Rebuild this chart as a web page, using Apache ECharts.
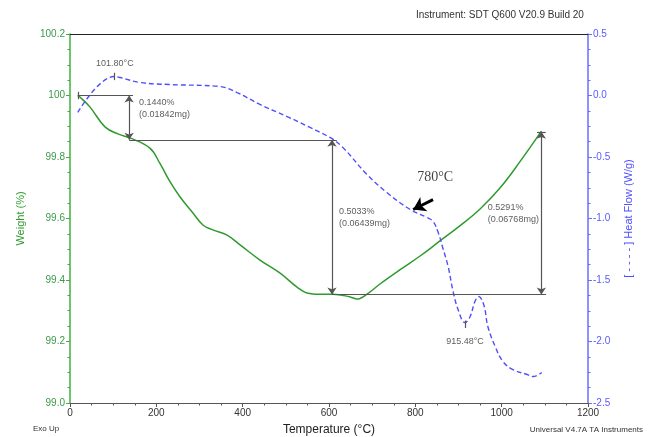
<!DOCTYPE html>
<html><head><meta charset="utf-8">
<script src="https://cdn.jsdelivr.net/npm/echarts@6/dist/echarts.min.js"></script>
<style>html,body{margin:0;padding:0;background:#fff}#c{width:648px;height:437px}</style>
</head><body><div id="c"></div>
<script>
// Weight curve (left axis)
const weightT = [18,23,46,81,111,139,185,208,232,255,283,308,331,364,394,440,486,526,549,579,609,649,665,688,718,764,811,857,903,950,996,1042,1092];
const weightPct = [100.0,99.995,99.963,99.898,99.875,99.862,99.829,99.780,99.719,99.670,99.621,99.579,99.563,99.546,99.514,99.465,99.423,99.377,99.358,99.354,99.354,99.345,99.338,99.354,99.387,99.433,99.478,99.527,99.576,99.631,99.699,99.784,99.884];
// Heat flow curve (right axis)
const heatT = [18,102,116,162,232,347,387,440,503,556,602,630,688,734,788,827,841,853,864,876,887,899,915,927,938,947,959,968,985,1003,1026,1059,1073,1093];
const heatFlow = [-0.138,0.154,0.146,0.106,0.089,0.073,0.024,-0.073,-0.171,-0.260,-0.341,-0.415,-0.642,-0.789,-0.927,-0.992,-1.024,-1.114,-1.244,-1.390,-1.585,-1.740,-1.846,-1.797,-1.675,-1.634,-1.707,-1.878,-2.041,-2.163,-2.228,-2.268,-2.285,-2.252];
// Step measurement annotations (weight axis): [T, topWeight, bottomWeight]
const stepVerticals = [[137,100.0,99.856],[607,99.856,99.353],[1092,99.882,99.353]];
// horizontal guide lines: [weight, T from, T to]
const stepHorizontals = [[100.0,18,146],[99.856,137,618],[99.353,607,1103],[99.882,1082,1102]];
const stepTicks = [[18,100.012,99.988]];
const stepLabels = [[160,99.959,'0.1440%\n(0.01842mg)'],[623,99.602,'0.5033%\n(0.06439mg)'],[968,99.616,'0.5291%\n(0.06768mg)']];
// Heat flow peak markers: [T, top, bottom]
const heatTicks = [[102,0.185,0.125],[915,-1.83,-1.89]];
const heatLabels = [[104,0.26,'101.80°C'],[915,-2.0,'915.48°C']];
const arrow780 = [[841,-0.846],[795,-0.927]];
const text780 = [846,-0.667,'780°C'];
// Axes ticks
const xTicks = {min:0,max:1200,interval:200};
const yLeft = {min:99.0,max:100.2,interval:0.2};
const yRight = {min:-2.5,max:0.5,interval:0.5};

const green = '#2f9a2f', blue = '#4f4fff', gray = '#555';
const wData = weightT.map((t,i)=>[t,weightPct[i]]);
const hData = heatT.map((t,i)=>[t,heatFlow[i]]);

const wMarks = [];
stepVerticals.forEach(v=>wMarks.push([{coord:[v[0],v[1]],symbol:'arrow'},{coord:[v[0],v[2]],symbol:'arrow'}]));
stepHorizontals.forEach(h=>wMarks.push([{coord:[h[1],h[0]],symbol:'none'},{coord:[h[2],h[0]],symbol:'none'}]));
stepTicks.forEach(v=>wMarks.push([{coord:[v[0],v[1]],symbol:'none'},{coord:[v[0],v[2]],symbol:'none'}]));

const hMarks = [];
heatTicks.forEach(v=>hMarks.push([{coord:[v[0],v[1]],symbol:'none'},{coord:[v[0],v[2]],symbol:'none'}]));
hMarks.push([{coord:arrow780[0],symbol:'none',lineStyle:{color:'#000',width:3,type:'solid'}},{coord:arrow780[1],symbol:'arrow',symbolSize:12}]);

const chart = echarts.init(document.getElementById('c'),null,{renderer:'canvas'});
chart.setOption({
  animation:false,
  backgroundColor:'#fff',
  textStyle:{fontFamily:'Liberation Sans, Arial, sans-serif'},
  grid:{left:70,right:60,top:34,bottom:34,containLabel:false,outerBoundsMode:'none'},
  xAxis:[{
    type:'value',min:xTicks.min,max:xTicks.max,interval:xTicks.interval,
    name:'Temperature (°C)',nameLocation:'middle',nameGap:21,
    nameTextStyle:{color:'#222',fontSize:12},
    axisLine:{onZero:false,lineStyle:{color:gray,width:1.2}},
    axisTick:{length:4,lineStyle:{color:gray}},
    minorTick:{show:true,splitNumber:4,length:2.5,lineStyle:{color:gray}},
    axisLabel:{color:'#333',fontSize:10,margin:5,formatter:v=>String(v)},
    splitLine:{show:false}
  },{
    type:'value',position:'top',min:xTicks.min,max:xTicks.max,
    axisLine:{show:true,onZero:false,lineStyle:{color:'#222',width:1}},
    axisTick:{show:false},axisLabel:{show:false},splitLine:{show:false}
  }],
  yAxis:[{
    type:'value',position:'left',min:yLeft.min,max:yLeft.max,interval:yLeft.interval,
    name:'Weight (%)',nameLocation:'middle',nameGap:44,
    nameTextStyle:{color:green,fontSize:11},
    axisLine:{show:true,onZero:false,lineStyle:{color:'#3fb03f',width:1.5}},
    axisTick:{show:true,length:4,lineStyle:{color:'#3fb03f'}},
    minorTick:{show:true,splitNumber:4,length:2.5,lineStyle:{color:'#3fb03f'}},
    axisLabel:{color:'#3a9a4a',fontSize:10,margin:5,formatter:v=>Math.abs(v-100)<1e-6?'100':v.toFixed(1)},
    splitLine:{show:false}
  },{
    type:'value',position:'right',min:yRight.min,max:yRight.max,interval:yRight.interval,
    name:'[ - - - - ] Heat Flow (W/g)',nameLocation:'middle',nameGap:35,
    nameTextStyle:{color:blue,fontSize:11},
    axisLine:{show:true,onZero:false,lineStyle:{color:'#6b6bff',width:1.5}},
    axisTick:{show:true,length:4,lineStyle:{color:'#6b6bff'}},
    minorTick:{show:true,splitNumber:4,length:2.5,lineStyle:{color:'#6b6bff'}},
    axisLabel:{color:'#5a5aff',fontSize:10,margin:5,formatter:v=>v.toFixed(1)},
    splitLine:{show:false}
  }],
  series:[{
    type:'line',name:'Weight',xAxisIndex:0,yAxisIndex:0,data:wData,
    symbol:'none',smooth:0.4,
    lineStyle:{color:green,width:1.5},z:3,
    markLine:{silent:true,animation:false,symbolSize:7,label:{show:false},
      lineStyle:{color:gray,width:1.2,type:'solid'},data:wMarks}
  },{
    type:'line',name:'Heat Flow',xAxisIndex:0,yAxisIndex:1,data:hData,
    symbol:'none',smooth:0.4,
    lineStyle:{color:blue,width:1.4,type:[5,3]},z:3,
    markLine:{silent:true,animation:false,symbolSize:7,label:{show:false},
      lineStyle:{color:gray,width:1.2,type:'solid'},data:hMarks}
  },{
    type:'scatter',xAxisIndex:0,yAxisIndex:0,symbolSize:0,silent:true,
    data:stepLabels.map(l=>({value:[l[0],l[1]],name:l[2]})),
    label:{show:true,position:'right',distance:0,formatter:'{b}',color:'#333',fontSize:9,lineHeight:12,align:'left'}
  },{
    type:'scatter',xAxisIndex:0,yAxisIndex:1,symbolSize:0,silent:true,
    data:heatLabels.map(l=>({value:[l[0],l[1]],name:l[2]})),
    label:{show:true,position:'inside',formatter:'{b}',color:'#333',fontSize:9}
  },{
    type:'scatter',xAxisIndex:0,yAxisIndex:1,symbolSize:0,silent:true,
    data:[{value:[text780[0],text780[1]],name:text780[2]}],
    label:{show:true,position:'inside',formatter:'{b}',color:'#111',fontSize:14,fontFamily:'Liberation Serif, Times New Roman, serif'}
  }],
  graphic:[
    {type:'text',left:416,top:10,style:{text:'Instrument: SDT Q600 V20.9 Build 20',fill:'#333',fontSize:10,fontFamily:'Liberation Sans, Arial'}},
    {type:'text',left:33,top:425,style:{text:'Exo Up',fill:'#333',fontSize:8,fontFamily:'Liberation Sans, Arial'}},
    {type:'text',right:5,top:426,style:{text:'Universal V4.7A TA Instruments',fill:'#333',fontSize:8,fontFamily:'Liberation Sans, Arial'}}
  ]
});
</script></body></html>
